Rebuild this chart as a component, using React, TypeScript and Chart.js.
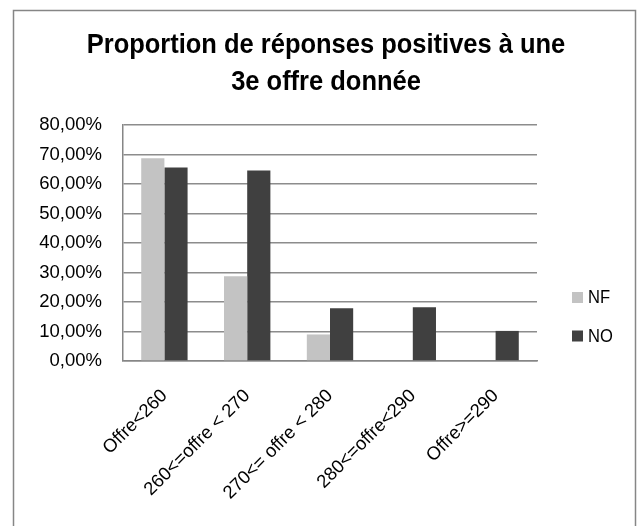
import React, { useEffect, useRef } from "react";
import { Chart, registerables } from "chart.js";

Chart.register(...registerables);

const categories = ["Offre<260", "260<=offre < 270", "270<= offre < 280", "280<=offre<290", "Offre>=290"];
const seriesNames = ["NF", "NO"];
const nfValues = [0.687, 0.287, 0.09, 0, 0];
const noValues = [0.656, 0.646, 0.179, 0.182, 0.102];
const yTicks = [0, 0.1, 0.2, 0.3, 0.4, 0.5, 0.6, 0.7, 0.8];
const titleLines = ["Proportion de réponses positives à une", "3e offre donnée"];

const colors = ["#C3C3C3", "#404040"];
const FONT = "'Liberation Sans', Arial, sans-serif";

const framePlugin = {
  id: "frame",
  beforeDraw(chart: any) {
    const ctx = chart.ctx;
    ctx.save();
    ctx.fillStyle = "#ffffff";
    ctx.fillRect(0, 0, chart.width, chart.height);
    ctx.strokeStyle = "#868686";
    ctx.lineWidth = 1.5;
    ctx.strokeRect(13.5, 10.5, 622, 530);
    ctx.restore();
  },
  afterDraw(chart: any) {
    const ctx = chart.ctx;
    ctx.save();
    // title
    ctx.fillStyle = "#000";
    ctx.font = `bold 28px ${FONT}`;
    ctx.textAlign = "center";
    ctx.textBaseline = "alphabetic";
    const baselines = [53, 90];
    titleLines.forEach((line, i) => {
      ctx.save();
      ctx.translate(326, baselines[i]);
      ctx.scale(0.91, 1);
      ctx.fillText(line, 0, 0);
      ctx.restore();
    });
    // legend
    const ys = [297.5, 336];
    chart.data.datasets.forEach((ds: any, i: number) => {
      ctx.fillStyle = ds.backgroundColor;
      ctx.fillRect(572, ys[i] - 5.5, 11, 11);
      ctx.fillStyle = "#000";
      ctx.font = `18px ${FONT}`;
      ctx.textBaseline = "middle";
      ctx.textAlign = "left";
      ctx.save();
      ctx.translate(588, ys[i] + 1);
      ctx.scale(0.92, 1);
      ctx.fillText(ds.label, 0, 0);
      ctx.restore();
    });
    ctx.restore();
  },
};

export default function App() {
  const ref = useRef<HTMLCanvasElement>(null);
  useEffect(() => {
    if (!ref.current) return;
    const chart = new Chart(ref.current, {
      type: "bar",
      data: {
        labels: categories,
        datasets: [
          { label: seriesNames[0], data: nfValues, backgroundColor: colors[0] },
          { label: seriesNames[1], data: noValues, backgroundColor: colors[1] },
        ],
      },
      options: {
        responsive: false,
        animation: false,
        devicePixelRatio: 1,
        layout: { padding: { top: 125, left: 13, right: 105, bottom: 0 } },
        datasets: { bar: { categoryPercentage: 0.56, barPercentage: 1 } } as any,
        plugins: {
          legend: { display: false },
          tooltip: { enabled: false },
          title: { display: false },
        },
        scales: {
          x: {
            grid: { display: false, drawTicks: false },
            border: { display: true, color: "#868686", width: 1.5 },
            ticks: {
              color: "#000",
              font: { family: FONT, size: 18.5 },
              minRotation: 45,
              maxRotation: 45,
              padding: 24,
            },
            afterFit(scale: any) {
              scale.height = 165;
            },
          },
          y: {
            min: 0,
            max: 0.8,
            afterBuildTicks(scale: any) {
              scale.ticks = yTicks.map((v) => ({ value: v }));
            },
            grid: { color: "#8c8c8c", lineWidth: 1.5, drawTicks: false },
            border: { display: true, color: "#868686", width: 1.5 },
            ticks: {
              color: "#000",
              font: { family: FONT, size: 18.5 },
              padding: 21,
              callback: (v: any) => (Number(v) * 100).toFixed(2).replace(".", ",") + "%",
            },
            afterFit(scale: any) {
              scale.width = 110;
            },
          },
        },
      },
      plugins: [framePlugin],
    });
    return () => chart.destroy();
  }, []);
  return (
    <div style={{ position: "fixed", left: 0, top: 0, width: 642, height: 526 }}>
      <canvas ref={ref} width={642} height={526} />
    </div>
  );
}
